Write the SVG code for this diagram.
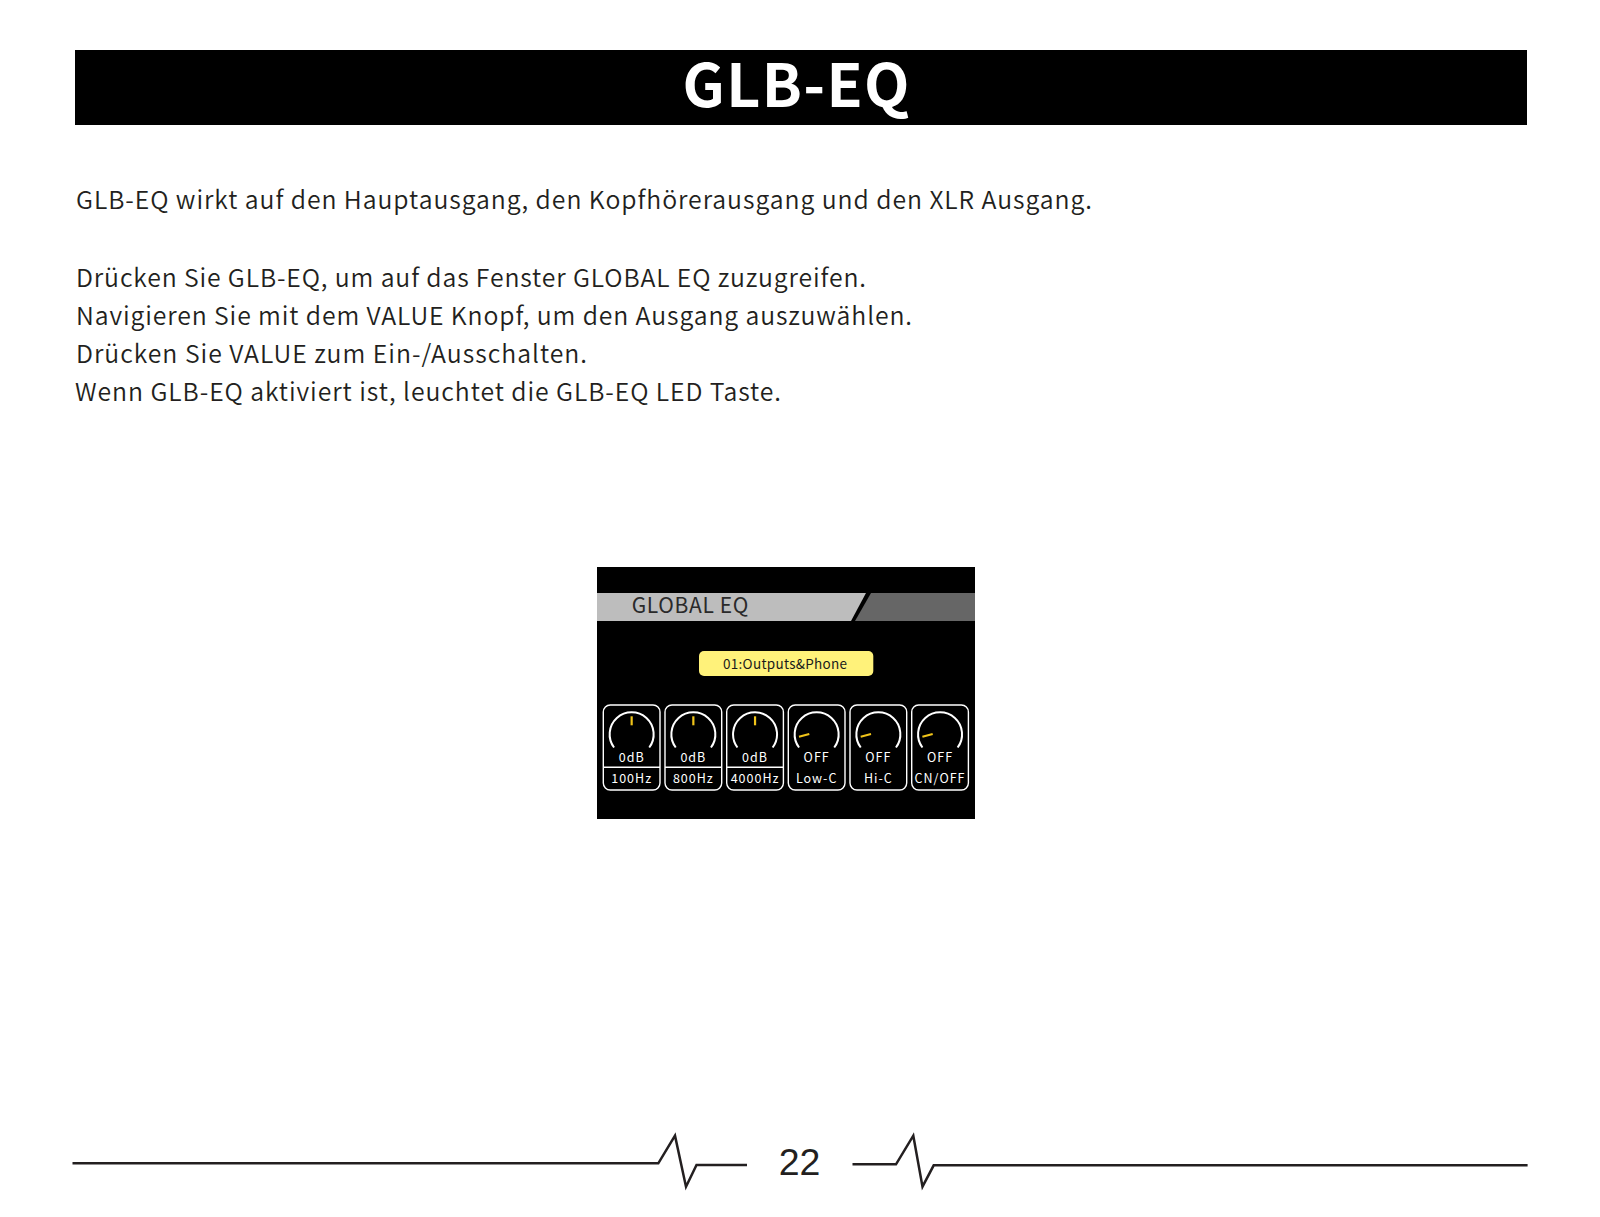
<svg xmlns="http://www.w3.org/2000/svg" width="1600" height="1217" viewBox="0 0 1600 1217">
<style>
.body{font-family:"Noto Sans CJK SC","Noto Sans",sans-serif;font-size:24.8px;font-weight:350;fill:#231f20;}
.card{fill:none;stroke:#ffffff;stroke-width:1.4;}
.arc{fill:none;stroke:#ffffff;stroke-width:2;}
.ind{stroke:#f0c419;stroke-width:2.2;stroke-linecap:butt;}
.lbl{font-family:"Noto Sans CJK SC","Noto Sans",sans-serif;font-size:12.5px;fill:#ffffff;text-anchor:middle;letter-spacing:1px;}
.hb{fill:none;stroke:#231f20;stroke-width:2.5;stroke-linejoin:miter;}
</style>
<rect width="1600" height="1217" fill="#ffffff"/>
<g id="header">
<rect x="75" y="50" width="1452" height="75" fill="#000000"/>
<text x="796" y="107" font-family="'Noto Sans CJK SC','Noto Sans',sans-serif" font-size="59" font-weight="bold" fill="#ffffff" text-anchor="middle" textLength="227" lengthAdjust="spacing">GLB-EQ</text>
</g>
<g id="body-text">
<text class="body" x="76" y="209.3" textLength="1016" lengthAdjust="spacing">GLB-EQ wirkt auf den Hauptausgang, den Kopfhörerausgang und den XLR Ausgang.</text>
<text class="body" x="76" y="286.5" textLength="790" lengthAdjust="spacing">Drücken Sie GLB-EQ, um auf das Fenster GLOBAL EQ zuzugreifen.</text>
<text class="body" x="76" y="324.5" textLength="836" lengthAdjust="spacing">Navigieren Sie mit dem VALUE Knopf, um den Ausgang auszuwählen.</text>
<text class="body" x="76" y="362.7" textLength="511" lengthAdjust="spacing">Drücken Sie VALUE zum Ein-/Ausschalten.</text>
<text class="body" x="75" y="400.5" textLength="706" lengthAdjust="spacing">Wenn GLB-EQ aktiviert ist, leuchtet die GLB-EQ LED Taste.</text>
</g>
<g id="screen">
<rect x="597" y="567" width="378" height="252" fill="#000000"/>
<polygon points="597,593 866,593 851,621 597,621" fill="#bdbdbd"/>
<polygon points="871,593 975,593 975,621 855,621" fill="#666666"/>
<text x="631.7" y="613.3" font-family="'Noto Sans CJK SC','Noto Sans',sans-serif" font-size="21" fill="#2a2a2a" textLength="116.7" lengthAdjust="spacing">GLOBAL EQ</text>
<rect x="699" y="651" width="174.3" height="25" rx="5" fill="#fff27a"/>
<text x="785" y="669" font-family="'Noto Sans CJK SC','Noto Sans',sans-serif" font-size="13.5" fill="#1a1a1a" text-anchor="middle" textLength="124" lengthAdjust="spacing">01:Outputs&amp;Phone</text>
</g>
<g id="knob-100hz">
<rect class="card" x="603.3" y="705" width="56.7" height="85" rx="7"/>
<line x1="603.3" y1="767.3" x2="660" y2="767.3" stroke="#ffffff" stroke-width="1.4"/>
<path class="arc" d="M614.05 747.5 A22 22 0 1 1 649.25 747.5"/>
<line class="ind" x1="631.65" y1="716.3" x2="631.65" y2="725.3"/>
<text class="lbl" x="631.65" y="761.7">0dB</text>
<text class="lbl" x="631.65" y="782.7">100Hz</text>
</g>
<g id="knob-800hz">
<rect class="card" x="665" y="705" width="56.7" height="85" rx="7"/>
<line x1="665" y1="767.3" x2="721.7" y2="767.3" stroke="#ffffff" stroke-width="1.4"/>
<path class="arc" d="M675.75 747.5 A22 22 0 1 1 710.95 747.5"/>
<line class="ind" x1="693.35" y1="716.3" x2="693.35" y2="725.3"/>
<text class="lbl" x="693.35" y="761.7">0dB</text>
<text class="lbl" x="693.35" y="782.7">800Hz</text>
</g>
<g id="knob-4000hz">
<rect class="card" x="726.7" y="705" width="56.7" height="85" rx="7"/>
<line x1="726.7" y1="767.3" x2="783.4" y2="767.3" stroke="#ffffff" stroke-width="1.4"/>
<path class="arc" d="M737.45 747.5 A22 22 0 1 1 772.65 747.5"/>
<line class="ind" x1="755.05" y1="716.3" x2="755.05" y2="725.3"/>
<text class="lbl" x="755.05" y="761.7">0dB</text>
<text class="lbl" x="755.05" y="782.7" letter-spacing="0.3">4000Hz</text>
</g>
<g id="knob-lowc">
<rect class="card" x="788.3" y="705" width="56.7" height="85" rx="7"/>
<path class="arc" d="M799.05 747.5 A22 22 0 1 1 834.25 747.5"/>
<line class="ind" x1="799" y1="736.7" x2="809.3" y2="734"/>
<text class="lbl" x="816.65" y="761.7">OFF</text>
<text class="lbl" x="816.65" y="782.7">Low-C</text>
</g>
<g id="knob-hic">
<rect class="card" x="850" y="705" width="56.7" height="85" rx="7"/>
<path class="arc" d="M860.75 747.5 A22 22 0 1 1 895.95 747.5"/>
<line class="ind" x1="860.7" y1="736.7" x2="871" y2="734"/>
<text class="lbl" x="878.35" y="761.7">OFF</text>
<text class="lbl" x="878.35" y="782.7">Hi-C</text>
</g>
<g id="knob-cnoff">
<rect class="card" x="911.7" y="705" width="56.7" height="85" rx="7"/>
<path class="arc" d="M922.45 747.5 A22 22 0 1 1 957.65 747.5"/>
<line class="ind" x1="922.4" y1="736.7" x2="932.7" y2="734"/>
<text class="lbl" x="940.05" y="761.7">OFF</text>
<text class="lbl" x="940.05" y="782.7" letter-spacing="0.3">CN/OFF</text>
</g>
<g id="footer">
<polyline class="hb" points="72.5,1163.3 658.3,1163.3 675,1135.7 686,1186.7 696.5,1165 747,1165"/>
<polyline class="hb" points="852.5,1164.3 896,1164.3 913.3,1135.7 922.5,1186.7 933.7,1165.3 1527.6,1165.3"/>
<text x="799.5" y="1175" font-family="'Liberation Sans',Arial,sans-serif" font-size="37.5" fill="#231f20" text-anchor="middle">22</text>
</g>
</svg>
